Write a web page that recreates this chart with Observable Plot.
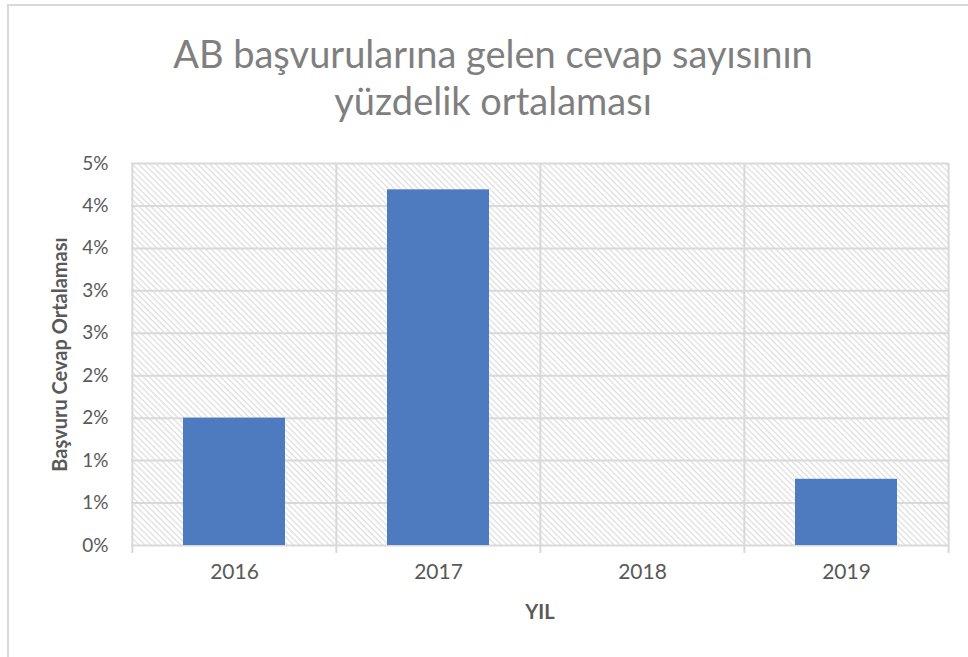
<!DOCTYPE html>
<html>
<head>
<meta charset="utf-8">
<script src="https://cdn.jsdelivr.net/npm/d3@7"></script>
<script src="https://cdn.jsdelivr.net/npm/@observablehq/plot@0.6"></script>
<style>
  html, body { margin: 0; padding: 0; background: #fff; }
  body { width: 968px; height: 657px; position: relative; overflow: hidden; font-family: Lato, "Open Sans", sans-serif; }
  #border { position: absolute; left: 7px; top: 4px; width: 990px; height: 700px;
            border-left: 2.5px solid #d9d9d9; border-top: 2.5px solid #d9d9d9; }
  #title { position: absolute; left: 9px; top: 30px; width: 968px; text-align: center;
           font-size: 38px; line-height: 47px; color: #7f7f7f; font-weight: 400; }
  #chart { position: absolute; left: 0; top: 140px; }
</style>
</head>
<body>
<div id="border"></div>
<div id="title">AB başvurularına gelen cevap sayısının<br>yüzdelik ortalaması</div>
<div id="chart"></div>
<script>
// ---- data ----
const years = ["2016", "2017", "2018", "2019"];
const values = [1.5, 4.19, 0, 0.78]; // percent
const yTicks = [0, 0.5, 1, 1.5, 2, 2.5, 3, 3.5, 4, 4.5];
const yTickLabels = ["0%", "1%", "1%", "2%", "2%", "3%", "3%", "4%", "4%", "5%"];
const yLabel = "Başvuru Cevap Ortalaması";
const xLabel = "YIL";

const data = years.map((y, i) => ({year: y, value: values[i]}));

const width = 968, height = 500;
const marginLeft = 131, marginRight = 20, marginTop = 23, marginBottom = 95;
const step = (width - marginLeft - marginRight) / years.length;
const grid = "#d9d9d9";
const txt = "#595959";

const plot = Plot.plot({
  width, height, marginLeft, marginRight, marginTop, marginBottom,
  style: {fontFamily: "Lato, 'Open Sans', sans-serif", background: "transparent"},
  x: {domain: years, paddingInner: 0.5, paddingOuter: 0.25, label: null},
  y: {domain: [0, 4.5], label: null},
  marks: [
    Plot.frame({fill: "url(#hatch)", stroke: "none"}),
    Plot.ruleY(yTicks, {stroke: grid, strokeWidth: 2}),
    Plot.ruleX(years, {x: d => d, dx: -step / 2, stroke: grid, strokeWidth: 2, insetBottom: -8}),
    Plot.ruleX(years.slice(-1), {x: d => d, dx: step / 2, stroke: grid, strokeWidth: 2, insetBottom: -8}),
    Plot.barY(data, {x: "year", y: "value", fill: "#4e7ac0"}),
    Plot.axisY({ticks: yTicks, tickFormat: (d, i) => yTickLabels[yTicks.indexOf(d)], tickSize: 0, tickPadding: 23,
                fontSize: 19, fill: txt, label: null}),
    Plot.axisX({tickSize: 0, tickPadding: 19, fontSize: 21, fill: txt, label: null}),
    Plot.text([yLabel], {frameAnchor: "left", dx: -71, rotate: -90, text: d => d, fontSize: 20,
                         fontWeight: "bold", fill: txt, textAnchor: "middle"}),
    Plot.text([xLabel], {frameAnchor: "bottom", dy: 67, text: d => d, fontSize: 20,
                         fontWeight: "bold", fill: txt, lineAnchor: "middle"})
  ]
});

const svg = d3.select(plot);
const defs = svg.insert("defs", ":first-child");
const pat = defs.append("pattern")
  .attr("id", "hatch")
  .attr("patternUnits", "userSpaceOnUse")
  .attr("width", 4.2).attr("height", 4.2)
  .attr("patternTransform", "rotate(-45)");
pat.append("rect").attr("width", 4.2).attr("height", 4.2).attr("fill", "#ffffff");
pat.append("line").attr("x1", 1).attr("y1", 0).attr("x2", 1).attr("y2", 4.2)
  .attr("stroke", "#dadada").attr("stroke-width", 1.1);

document.getElementById("chart").appendChild(plot);
</script>
</body>
</html>
